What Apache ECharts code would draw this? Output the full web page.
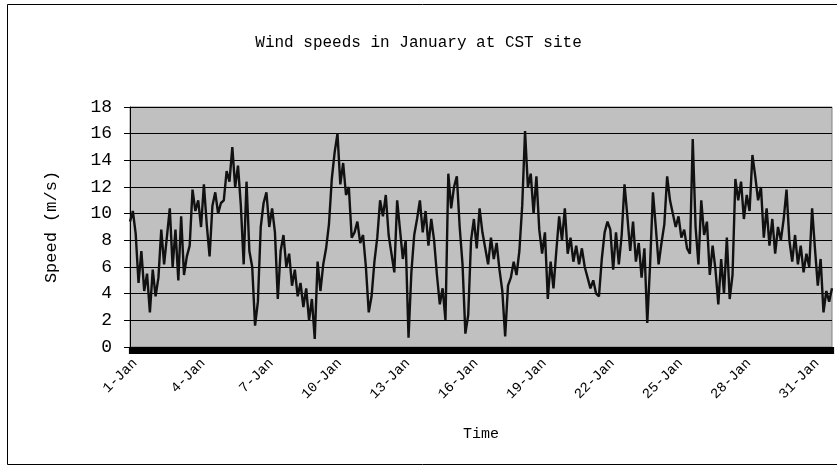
<!DOCTYPE html>
<html>
<head>
<meta charset="utf-8">
<script src="https://cdn.jsdelivr.net/npm/echarts@6/dist/echarts.min.js"></script>
<style>
  html, body { margin: 0; padding: 0; background: #fff; }
  #windChart { width: 837px; height: 465px; }
</style>
</head>
<body>
<div id="windChart"></div>
<script>
// 3-hourly readings, 1 Jan 00:00 .. 31 Jan 21:00 (8 per day)
var pointsPerDay = 8;
var monthName = 'Jan';
var speeds = [
    9.4, 10.2, 8.5, 4.8, 7.2, 4.2, 5.5, 2.6, 5.8, 3.8,
    5.2, 8.8, 6.2, 8.3, 10.4, 6.0, 8.8, 5.0, 9.8, 5.4,
    6.8, 7.6, 11.8, 10.2, 11.0, 9.0, 12.2, 9.2, 6.8, 10.6,
    11.6, 10.0, 10.8, 11.0, 13.2, 12.4, 15.0, 12.0, 13.6, 10.6,
    6.2, 12.4, 7.2, 6.0, 1.6, 3.4, 9.0, 10.8, 11.6, 9.0,
    10.4, 8.6, 3.6, 7.2, 8.4, 6.0, 7.0, 4.6, 5.8, 3.8,
    4.8, 3.0, 4.4, 2.0, 3.6, 0.6, 6.4, 4.2, 6.2, 7.4,
    9.2, 12.6, 14.6, 16.0, 12.2, 13.8, 11.4, 12.0, 8.2, 8.6,
    9.4, 7.8, 8.4, 6.0, 2.6, 3.8, 6.4, 8.2, 11.0, 9.8,
    11.4, 8.4, 7.0, 5.6, 11.0, 8.8, 6.6, 8.0, 0.7, 5.6,
    8.4, 9.6, 11.0, 8.6, 10.2, 7.6, 9.6, 8.0, 5.4, 3.2,
    4.4, 2.0, 13.0, 10.4, 12.0, 12.8, 9.0, 6.2, 1.0, 2.4,
    8.0, 9.6, 7.4, 10.4, 8.6, 7.4, 6.2, 8.2, 6.6, 7.8,
    5.8, 4.2, 0.8, 4.6, 5.2, 6.4, 5.4, 7.2, 10.6, 16.2,
    12.0, 13.0, 10.0, 12.8, 8.8, 7.0, 8.6, 3.6, 6.4, 4.4,
    7.2, 9.8, 8.0, 10.4, 7.0, 8.2, 6.4, 7.6, 6.2, 7.4,
    6.0, 5.2, 4.4, 5.0, 4.0, 3.8, 6.6, 8.6, 9.4, 8.8,
    5.8, 8.6, 6.2, 8.4, 12.2, 9.8, 7.2, 9.4, 6.4, 7.8,
    5.2, 7.4, 1.8, 6.2, 11.6, 9.0, 6.2, 7.8, 9.2, 12.8,
    11.0, 10.0, 9.0, 9.8, 8.2, 8.8, 7.4, 7.0, 15.6, 9.0,
    6.2, 11.0, 8.4, 9.4, 5.4, 7.6, 5.8, 3.2, 6.6, 4.0,
    8.2, 3.6, 5.4, 12.6, 11.0, 12.4, 9.6, 11.4, 10.2, 14.4,
    12.8, 11.0, 12.0, 8.2, 10.4, 7.6, 9.6, 7.0, 9.0, 8.0,
    9.6, 11.8, 8.0, 6.4, 8.4, 6.2, 7.6, 5.6, 7.0, 6.0,
    10.4, 7.4, 4.6, 6.6, 2.6, 4.2, 3.4, 4.4
];
var labelEveryDays = 3;
var yTicks = { min: 0, max: 18, step: 2 };

// category per reading
var times = [];
for (var i = 0; i < speeds.length; i++) {
    var day = Math.floor(i / pointsPerDay) + 1;
    var hour = (i % pointsPerDay) * (24 / pointsPerDay);
    times.push(day + '-' + monthName + ' ' + (hour < 10 ? '0' : '') + hour + ':00');
}

var dom = document.getElementById('windChart');
var myChart = echarts.init(dom);

var font = '"Liberation Mono", "Courier New", monospace';

var option = {
    animation: false,
    backgroundColor: '#ffffff',
    title: {
        text: 'Wind speeds in January at CST site',
        left: 'center',
        top: 30,
        textStyle: {
            fontFamily: font,
            fontSize: 16,
            fontWeight: 'normal',
            color: '#000'
        }
    },
    graphic: [{
        type: 'rect',
        left: 5,
        top: 2,
        shape: { width: 830, height: 460 },
        style: { fill: 'none', stroke: '#000', lineWidth: 1 },
        silent: true
    }],
    grid: {
        left: 130,
        right: 5,
        top: 107,
        bottom: 118,
        show: true,
        backgroundColor: '#c0c0c0',
        borderColor: '#808080',
        borderWidth: 1
    },
    xAxis: {
        type: 'category',
        data: times,
        boundaryGap: false,
        name: 'Time',
        nameLocation: 'middle',
        nameGap: 80,
        nameTextStyle: { fontFamily: font, fontSize: 15, color: '#000' },
        axisLine: { lineStyle: { color: '#000', width: 1 } },
        axisTick: {
            interval: 0,
            length: 7,
            lineStyle: { color: '#000', width: 3.2 }
        },
        axisLabel: {
            interval: function(idx) {
                return idx % (pointsPerDay * labelEveryDays) === 0;
            },
            formatter: function(val) {
                return val.split(' ')[0];
            },
            rotate: 45,
            margin: 9,
            verticalAlign: 'top',
            fontFamily: font,
            fontSize: 14,
            color: '#000'
        },
        splitLine: { show: false }
    },
    yAxis: {
        type: 'value',
        min: yTicks.min,
        max: yTicks.max,
        interval: yTicks.step,
        name: 'Speed (m/s)',
        nameLocation: 'middle',
        nameGap: 70,
        nameTextStyle: { fontFamily: font, fontSize: 17, color: '#000' },
        axisLine: { show: true, lineStyle: { color: '#000', width: 1 } },
        axisTick: { show: true, length: 6, lineStyle: { color: '#000' } },
        axisLabel: {
            margin: 18,
            fontFamily: font,
            fontSize: 18,
            color: '#000'
        },
        splitLine: { show: true, lineStyle: { color: '#000', width: 1 } }
    },
    series: [{
        name: 'Wind speed',
        type: 'line',
        data: speeds,
        showSymbol: false,
        lineStyle: { color: '#111', width: 2.4 },
        z: 3
    }]
};

if (option && typeof option === 'object') {
    myChart.setOption(option, true);
}
</script>
</body>
</html>
